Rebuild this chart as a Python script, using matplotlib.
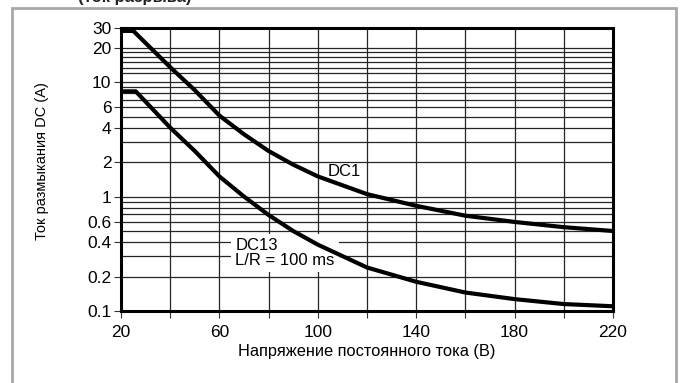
import matplotlib.pyplot as plt
from matplotlib.patches import Rectangle

# DC1 curve
dc1_v = [20, 25, 40, 50, 60, 70, 80, 90, 100, 120, 140, 160, 180, 200, 220]
dc1_a = [28, 28, 13.5, 8.5, 5.1, 3.5, 2.5, 1.9, 1.5, 1.05, 0.83, 0.68, 0.6, 0.54, 0.5]

# DC13 curve, L/R = 100 ms
dc13_v = [20, 26, 40, 50, 60, 70, 80, 90, 100, 120, 140, 160, 180, 200, 220]
dc13_a = [8.3, 8.3, 4.0, 2.5, 1.5, 1.0, 0.69, 0.5, 0.38, 0.24, 0.18, 0.145, 0.127, 0.115, 0.11]

xticks = [20, 60, 100, 140, 180, 220]
yticks = [0.1, 0.2, 0.4, 0.6, 1, 2, 4, 6, 10, 20, 30]
ytick_labels = ["0.1", "0.2", "0.4", "0.6", "1", "2", "4", "6", "10", "20", "30"]
vgrid = list(range(40, 220, 20))
hgrid = [0.2, 0.3, 0.4, 0.5, 0.6, 0.7, 0.8, 0.9, 1, 2, 3, 4, 5, 6, 7, 8, 9, 10,
         12, 13.2, 15, 16.7, 18.4, 20]

plt.rcParams['font.family'] = ['Liberation Sans', 'DejaVu Sans']

fig = plt.figure(figsize=(6.86, 3.83), dpi=100)
fig.patch.set_facecolor('white')

# panel frame
fig.add_artist(Rectangle((12 / 686, -0.1), (676 - 12) / 686, 1.1 - 8 / 383,
                         transform=fig.transFigure, fill=False,
                         edgecolor='#a8a8a8', lw=2))
# cut-off heading at the top
fig.text(78 / 686, 1 - 2 / 383, "(ток разрыва)", fontsize=12, fontweight='bold',
         va='baseline', ha='left', color='#222222')

ax = fig.add_axes([121 / 686, 1 - 311 / 383, 492 / 686, 283.5 / 383])
ax.set_yscale('log')
ax.set_xlim(20, 220)
ax.set_ylim(0.1, 30)

for v in vgrid:
    ax.axvline(v, color='#262626', lw=0.9, zorder=1)
for h in hgrid:
    ax.axhline(h, color='#262626', lw=0.9, zorder=1)

ax.plot(dc1_v, dc1_a, color='black', lw=3, solid_capstyle='butt', zorder=4)
ax.plot(dc13_v, dc13_a, color='black', lw=3, solid_capstyle='butt', zorder=4)

ax.text(104, 1.64, "DC1", fontsize=12, va='center', ha='left', zorder=3)
ax.text(66.5, 0.32, "DC13\nL/R = 100 ms", fontsize=12, va='center', ha='left',
        linespacing=1.0, zorder=3,
        bbox=dict(facecolor='white', edgecolor='none', pad=3))

ax.set_xticks(xticks)
ax.set_xticks(vgrid + [20, 220], minor=True)
ax.set_yticks(yticks)
ax.set_yticklabels(ytick_labels)
ax.yaxis.set_minor_locator(plt.NullLocator())
ax.tick_params(axis='both', which='major', labelsize=12.5, length=5, width=0.8,
               color='#333333', pad=2)
ax.tick_params(axis='x', which='minor', length=5, width=0.8, color='#333333')
ax.tick_params(axis='x', which='major', pad=5)

for s in ax.spines.values():
    s.set_linewidth(2.2)
    s.set_color('black')

ax.set_xlabel("Напряжение постоянного тока (В)", fontsize=11.8,
              family=['Liberation Sans Narrow', 'Liberation Sans'], labelpad=3)
ax.set_ylabel("Ток размыкания DC (А)", fontsize=10.5)
ax.yaxis.set_label_coords(-0.146, 0.53)

fig.savefig("out.png", dpi=100)
